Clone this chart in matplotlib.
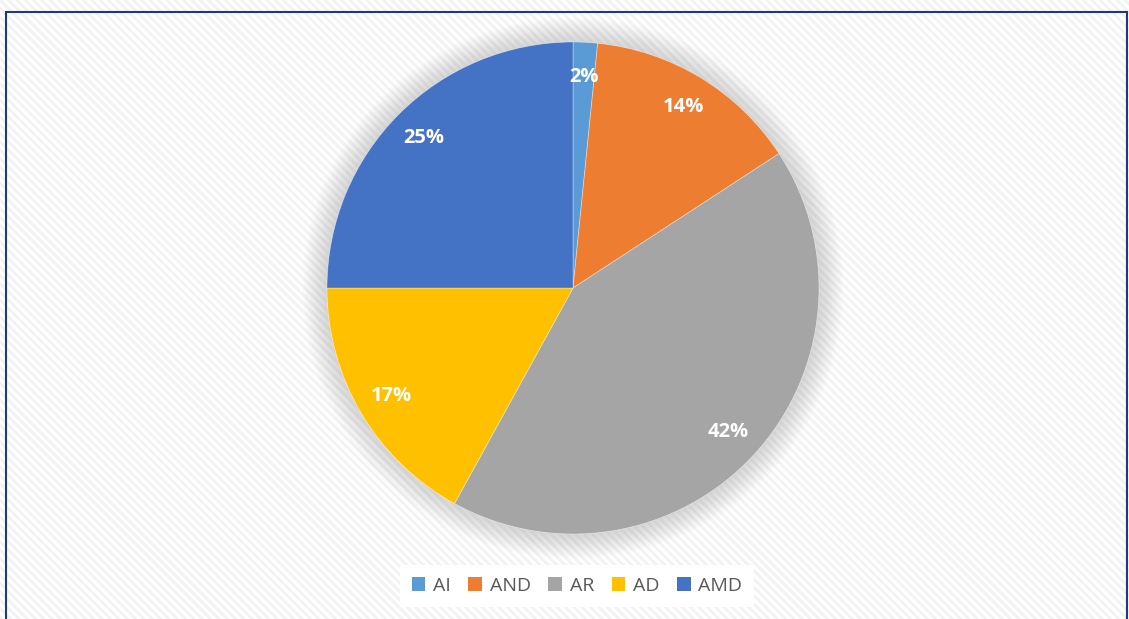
import matplotlib.pyplot as plt
from matplotlib.patches import Rectangle, Circle, Patch

labels = ['AI', 'AND', 'AR', 'AD', 'AMD']
values = [1.6, 14.2, 42.2, 17.0, 25.0]
colors = ['#5B9BD5', '#ED7D31', '#A5A5A5', '#FFC000', '#4472C4']

W, H = 1129, 619
cx, cy, r = 573, 288, 246  # pixel centre / radius of pie

plt.rcParams['hatch.linewidth'] = 2.0

fig = plt.figure(figsize=(W / 100, H / 100), dpi=100)
fig.patch.set_facecolor('white')

# hatched background + dark blue frame
fig.patches.append(Rectangle((0, 0), 1, 1, transform=fig.transFigure,
                             facecolor='white', edgecolor='#F2F2F2', lw=0,
                             hatch='\\\\\\\\', zorder=-5))
fig.patches.append(Rectangle((6 / W, -0.01), (1127 - 6) / W, 1 - 12 / H + 0.01,
                             transform=fig.transFigure, facecolor='none',
                             edgecolor='#1F3A7A', lw=1.5, zorder=5))

ax = fig.add_axes([0, 0, 1, 1])
ax.patch.set_alpha(0)

# soft shadow around pie
for i in range(20):
    rad = 1.0 + 0.005 * (i + 1)
    ax.add_patch(Circle((0, 0), rad, color='#999999', alpha=0.014, lw=0, zorder=0))
ax.add_patch(Circle((0, 0), 1.0, color='white', lw=0, zorder=0.5))

wedges, texts, autotexts = ax.pie(values, colors=colors, startangle=90, counterclock=False,
                                  autopct='%.0f%%', pctdistance=0.86,
                                  wedgeprops=dict(linewidth=0.6, edgecolor='#ffffff60'),
                                  textprops=dict(color='white', fontsize=14.5, fontweight='bold',
                                                 family='Open Sans'))
ax.set_aspect('auto')
ax.set_xlim(-cx / r, (W - cx) / r)
ax.set_ylim(-(H - cy) / r, cy / r)
ax.axis('off')

handles = [Patch(facecolor=c, edgecolor='none', label=l) for c, l in zip(colors, labels)]
leg = fig.legend(handles=handles, loc='center', bbox_to_anchor=(577 / W, 1 - 586 / H),
                 ncol=5, frameon=True, facecolor='white', edgecolor='none', framealpha=1,
                 fancybox=False, handlelength=0.7, handleheight=0.7, handletextpad=0.4,
                 columnspacing=0.9, borderpad=0.6,
                 prop=dict(family='Open Sans', size=14))
for t in leg.get_texts():
    t.set_color('#595959')

fig.savefig('out.png', dpi=100)
